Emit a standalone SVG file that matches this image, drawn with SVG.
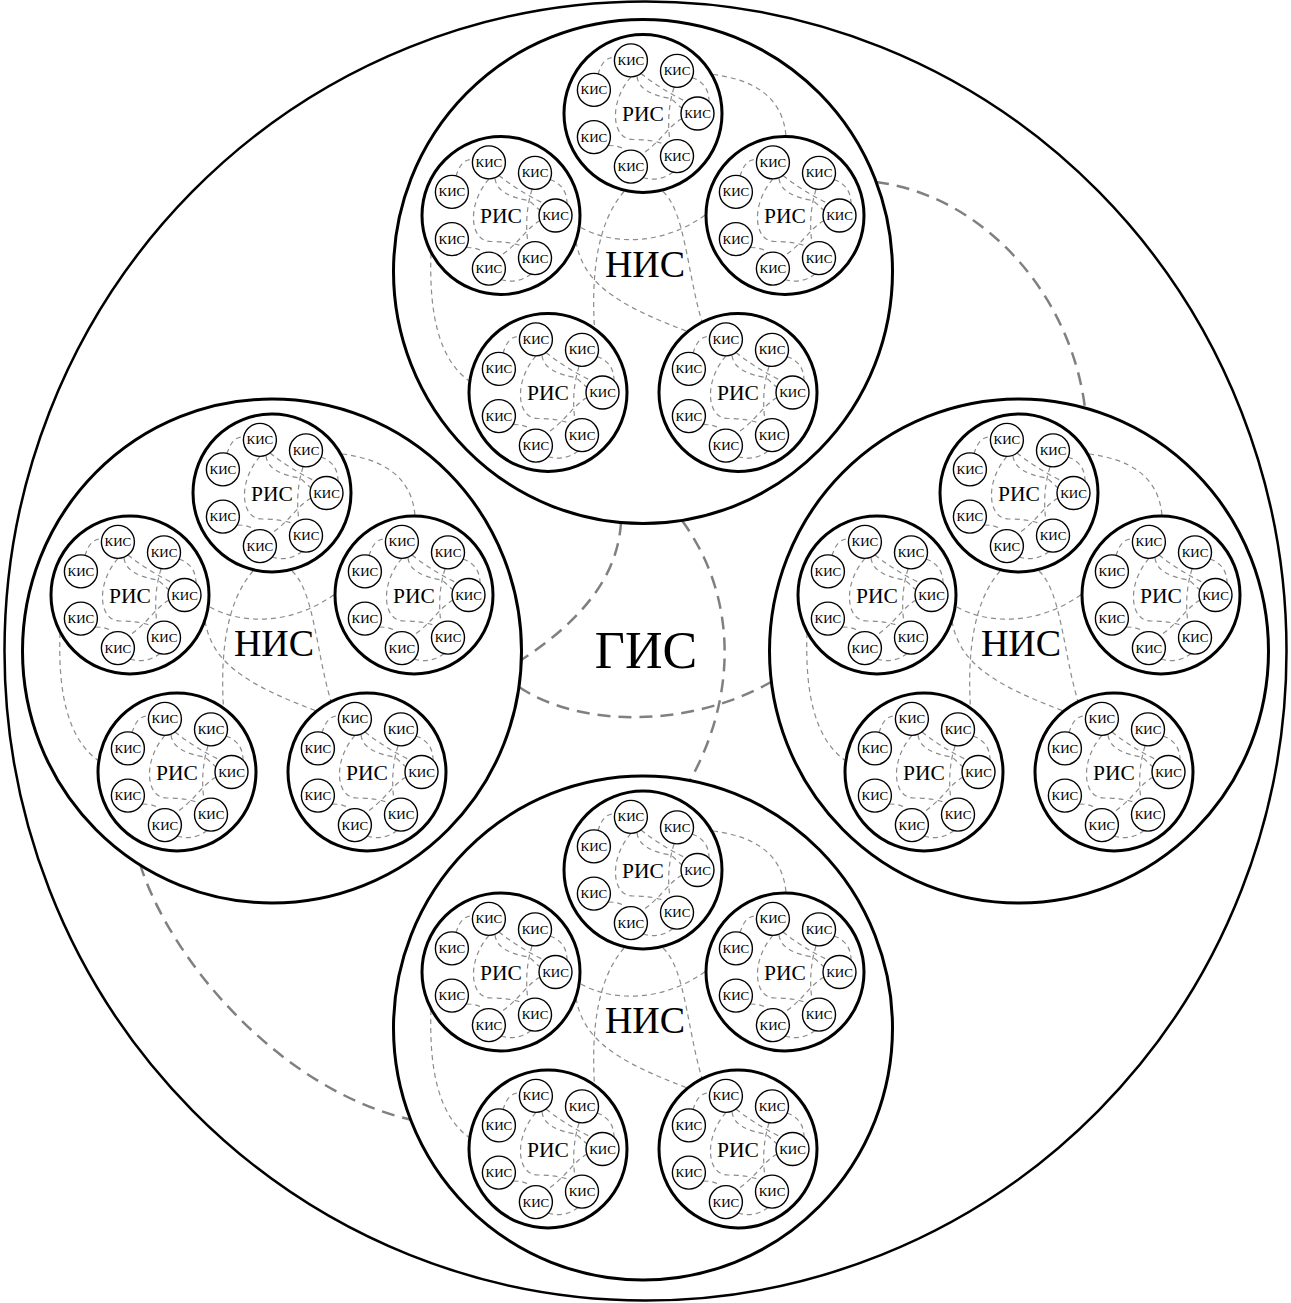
<svg xmlns="http://www.w3.org/2000/svg" xmlns:xlink="http://www.w3.org/1999/xlink" width="1291" height="1303" viewBox="0 0 1291 1303">
<style>
.gc{fill:none;stroke:#000;stroke-width:2.5}
.nc{fill:none;stroke:#000;stroke-width:3}
.rc{fill:none;stroke:#000;stroke-width:3}
.kc{fill:#fff;stroke:#000;stroke-width:1.4}
text{font-family:"Liberation Serif","Times New Roman",serif;text-anchor:middle;fill:#000}
.kt{font-size:13px}
.rt{font-size:21.5px}
.nt{font-size:38px}
.gt{font-size:52px}
.e1{fill:none;stroke:#808080;stroke-width:2.5;stroke-dasharray:13 8}
.e2{fill:none;stroke:#8c8c8c;stroke-width:1.2;stroke-dasharray:5 4}
</style>
<defs>
<g id="risEdges" class="e2">
<path d="M-45,-39 Q-40,-57 -28,-56"/>
<path d="M49,-36 Q66,-30 66,-12"/>
<path d="M0,64 Q16,69 30,58.5"/>
<path d="M-12,-36.6 C-34,-12 -32,26 -10,26 Q10,26 22,31"/>
<path d="M-6,-37 Q-4,-20 28,-15 L39,-5"/>
<path d="M31,-26 Q23,0 27,27.8"/>
<path d="M-2,-40 Q18,-24 43,-12"/>
<path d="M39,5 C26,12 16,30 -1,40.5"/>
<path d="M-35,32 Q-22,32 -17,37.4"/>
</g>
<g id="nisEdges">
<g class="e2">
<path d="M70,-197 C110,-192 140,-175 143,-135"/>
<path d="M-19,-80 C-45,-50 -52,0 -48.5,57"/>
<path d="M20,-80 C42,-60 44,0 59,50.5"/>
<path d="M-62,-44 C-30,-26 20,-26 63,-57"/>
<path d="M-67,-30 C-60,10 -30,32 44.5,60"/>
<path d="M-212,-18 C-214,40 -205,88 -173,110"/>
</g>
<use xlink:href="#risEdges" x="0" y="-158"/>
<use xlink:href="#risEdges" x="-142" y="-56"/>
<use xlink:href="#risEdges" x="142" y="-56"/>
<use xlink:href="#risEdges" x="-95" y="121"/>
<use xlink:href="#risEdges" x="95" y="121"/>
</g>
</defs>
<rect width="1291" height="1303" fill="#fff"/>
<g id="connectors">
<g class="e1">
<path d="M621,522.5 C618,570 590,615 521.3,660"/>
<path d="M682,520.5 C740,600 735,700 690,780.5"/>
<path d="M519,687 C580,728 690,728 771,682"/>
<path d="M876,182 C980,195 1070,290 1085,408"/>
<path d="M140,864 C170,960 280,1090 412,1120"/>
</g>
<use xlink:href="#nisEdges" x="643" y="271.5"/>
<use xlink:href="#nisEdges" x="272" y="651"/>
<use xlink:href="#nisEdges" x="1019" y="651"/>
<use xlink:href="#nisEdges" x="643" y="1028"/>
</g>
<g id="gis">
<ellipse class="gc" cx="645.5" cy="651" rx="641" ry="649.5"/>
<text class="gt" x="646" y="668">ГИС</text>
</g>

<g id="nisT" transform="translate(643 271.5)">
<ellipse class="nc" rx="249.5" ry="252"/>
<text class="nt" x="2" y="5">НИС</text>
<g id="T1" transform="translate(0 -158)"><circle class="rc" r="79"/><text class="rt" y="7.5">РИС</text>
<g id="T1a" transform="translate(54.5 0)"><circle class="kc" r="16.5"/><text class="kt" y="4.5">КИС</text></g>
<g id="T1b" transform="translate(34 42.6)"><circle class="kc" r="16.5"/><text class="kt" y="4.5">КИС</text></g>
<g id="T1c" transform="translate(-12.1 53.1)"><circle class="kc" r="16.5"/><text class="kt" y="4.5">КИС</text></g>
<g id="T1d" transform="translate(-49.1 23.6)"><circle class="kc" r="16.5"/><text class="kt" y="4.5">КИС</text></g>
<g id="T1e" transform="translate(-49.1 -23.6)"><circle class="kc" r="16.5"/><text class="kt" y="4.5">КИС</text></g>
<g id="T1f" transform="translate(-12.1 -53.1)"><circle class="kc" r="16.5"/><text class="kt" y="4.5">КИС</text></g>
<g id="T1g" transform="translate(34 -42.6)"><circle class="kc" r="16.5"/><text class="kt" y="4.5">КИС</text></g>
</g>
<g id="T2" transform="translate(-142 -56)"><circle class="rc" r="79"/><text class="rt" y="7.5">РИС</text>
<g id="T2a" transform="translate(54.5 0)"><circle class="kc" r="16.5"/><text class="kt" y="4.5">КИС</text></g>
<g id="T2b" transform="translate(34 42.6)"><circle class="kc" r="16.5"/><text class="kt" y="4.5">КИС</text></g>
<g id="T2c" transform="translate(-12.1 53.1)"><circle class="kc" r="16.5"/><text class="kt" y="4.5">КИС</text></g>
<g id="T2d" transform="translate(-49.1 23.6)"><circle class="kc" r="16.5"/><text class="kt" y="4.5">КИС</text></g>
<g id="T2e" transform="translate(-49.1 -23.6)"><circle class="kc" r="16.5"/><text class="kt" y="4.5">КИС</text></g>
<g id="T2f" transform="translate(-12.1 -53.1)"><circle class="kc" r="16.5"/><text class="kt" y="4.5">КИС</text></g>
<g id="T2g" transform="translate(34 -42.6)"><circle class="kc" r="16.5"/><text class="kt" y="4.5">КИС</text></g>
</g>
<g id="T3" transform="translate(142 -56)"><circle class="rc" r="79"/><text class="rt" y="7.5">РИС</text>
<g id="T3a" transform="translate(54.5 0)"><circle class="kc" r="16.5"/><text class="kt" y="4.5">КИС</text></g>
<g id="T3b" transform="translate(34 42.6)"><circle class="kc" r="16.5"/><text class="kt" y="4.5">КИС</text></g>
<g id="T3c" transform="translate(-12.1 53.1)"><circle class="kc" r="16.5"/><text class="kt" y="4.5">КИС</text></g>
<g id="T3d" transform="translate(-49.1 23.6)"><circle class="kc" r="16.5"/><text class="kt" y="4.5">КИС</text></g>
<g id="T3e" transform="translate(-49.1 -23.6)"><circle class="kc" r="16.5"/><text class="kt" y="4.5">КИС</text></g>
<g id="T3f" transform="translate(-12.1 -53.1)"><circle class="kc" r="16.5"/><text class="kt" y="4.5">КИС</text></g>
<g id="T3g" transform="translate(34 -42.6)"><circle class="kc" r="16.5"/><text class="kt" y="4.5">КИС</text></g>
</g>
<g id="T4" transform="translate(-95 121)"><circle class="rc" r="79"/><text class="rt" y="7.5">РИС</text>
<g id="T4a" transform="translate(54.5 0)"><circle class="kc" r="16.5"/><text class="kt" y="4.5">КИС</text></g>
<g id="T4b" transform="translate(34 42.6)"><circle class="kc" r="16.5"/><text class="kt" y="4.5">КИС</text></g>
<g id="T4c" transform="translate(-12.1 53.1)"><circle class="kc" r="16.5"/><text class="kt" y="4.5">КИС</text></g>
<g id="T4d" transform="translate(-49.1 23.6)"><circle class="kc" r="16.5"/><text class="kt" y="4.5">КИС</text></g>
<g id="T4e" transform="translate(-49.1 -23.6)"><circle class="kc" r="16.5"/><text class="kt" y="4.5">КИС</text></g>
<g id="T4f" transform="translate(-12.1 -53.1)"><circle class="kc" r="16.5"/><text class="kt" y="4.5">КИС</text></g>
<g id="T4g" transform="translate(34 -42.6)"><circle class="kc" r="16.5"/><text class="kt" y="4.5">КИС</text></g>
</g>
<g id="T5" transform="translate(95 121)"><circle class="rc" r="79"/><text class="rt" y="7.5">РИС</text>
<g id="T5a" transform="translate(54.5 0)"><circle class="kc" r="16.5"/><text class="kt" y="4.5">КИС</text></g>
<g id="T5b" transform="translate(34 42.6)"><circle class="kc" r="16.5"/><text class="kt" y="4.5">КИС</text></g>
<g id="T5c" transform="translate(-12.1 53.1)"><circle class="kc" r="16.5"/><text class="kt" y="4.5">КИС</text></g>
<g id="T5d" transform="translate(-49.1 23.6)"><circle class="kc" r="16.5"/><text class="kt" y="4.5">КИС</text></g>
<g id="T5e" transform="translate(-49.1 -23.6)"><circle class="kc" r="16.5"/><text class="kt" y="4.5">КИС</text></g>
<g id="T5f" transform="translate(-12.1 -53.1)"><circle class="kc" r="16.5"/><text class="kt" y="4.5">КИС</text></g>
<g id="T5g" transform="translate(34 -42.6)"><circle class="kc" r="16.5"/><text class="kt" y="4.5">КИС</text></g>
</g>
</g>

<g id="nisL" transform="translate(272 651)">
<ellipse class="nc" rx="249.5" ry="252"/>
<text class="nt" x="2" y="5">НИС</text>
<g id="L1" transform="translate(0 -158)"><circle class="rc" r="79"/><text class="rt" y="7.5">РИС</text>
<g id="L1a" transform="translate(54.5 0)"><circle class="kc" r="16.5"/><text class="kt" y="4.5">КИС</text></g>
<g id="L1b" transform="translate(34 42.6)"><circle class="kc" r="16.5"/><text class="kt" y="4.5">КИС</text></g>
<g id="L1c" transform="translate(-12.1 53.1)"><circle class="kc" r="16.5"/><text class="kt" y="4.5">КИС</text></g>
<g id="L1d" transform="translate(-49.1 23.6)"><circle class="kc" r="16.5"/><text class="kt" y="4.5">КИС</text></g>
<g id="L1e" transform="translate(-49.1 -23.6)"><circle class="kc" r="16.5"/><text class="kt" y="4.5">КИС</text></g>
<g id="L1f" transform="translate(-12.1 -53.1)"><circle class="kc" r="16.5"/><text class="kt" y="4.5">КИС</text></g>
<g id="L1g" transform="translate(34 -42.6)"><circle class="kc" r="16.5"/><text class="kt" y="4.5">КИС</text></g>
</g>
<g id="L2" transform="translate(-142 -56)"><circle class="rc" r="79"/><text class="rt" y="7.5">РИС</text>
<g id="L2a" transform="translate(54.5 0)"><circle class="kc" r="16.5"/><text class="kt" y="4.5">КИС</text></g>
<g id="L2b" transform="translate(34 42.6)"><circle class="kc" r="16.5"/><text class="kt" y="4.5">КИС</text></g>
<g id="L2c" transform="translate(-12.1 53.1)"><circle class="kc" r="16.5"/><text class="kt" y="4.5">КИС</text></g>
<g id="L2d" transform="translate(-49.1 23.6)"><circle class="kc" r="16.5"/><text class="kt" y="4.5">КИС</text></g>
<g id="L2e" transform="translate(-49.1 -23.6)"><circle class="kc" r="16.5"/><text class="kt" y="4.5">КИС</text></g>
<g id="L2f" transform="translate(-12.1 -53.1)"><circle class="kc" r="16.5"/><text class="kt" y="4.5">КИС</text></g>
<g id="L2g" transform="translate(34 -42.6)"><circle class="kc" r="16.5"/><text class="kt" y="4.5">КИС</text></g>
</g>
<g id="L3" transform="translate(142 -56)"><circle class="rc" r="79"/><text class="rt" y="7.5">РИС</text>
<g id="L3a" transform="translate(54.5 0)"><circle class="kc" r="16.5"/><text class="kt" y="4.5">КИС</text></g>
<g id="L3b" transform="translate(34 42.6)"><circle class="kc" r="16.5"/><text class="kt" y="4.5">КИС</text></g>
<g id="L3c" transform="translate(-12.1 53.1)"><circle class="kc" r="16.5"/><text class="kt" y="4.5">КИС</text></g>
<g id="L3d" transform="translate(-49.1 23.6)"><circle class="kc" r="16.5"/><text class="kt" y="4.5">КИС</text></g>
<g id="L3e" transform="translate(-49.1 -23.6)"><circle class="kc" r="16.5"/><text class="kt" y="4.5">КИС</text></g>
<g id="L3f" transform="translate(-12.1 -53.1)"><circle class="kc" r="16.5"/><text class="kt" y="4.5">КИС</text></g>
<g id="L3g" transform="translate(34 -42.6)"><circle class="kc" r="16.5"/><text class="kt" y="4.5">КИС</text></g>
</g>
<g id="L4" transform="translate(-95 121)"><circle class="rc" r="79"/><text class="rt" y="7.5">РИС</text>
<g id="L4a" transform="translate(54.5 0)"><circle class="kc" r="16.5"/><text class="kt" y="4.5">КИС</text></g>
<g id="L4b" transform="translate(34 42.6)"><circle class="kc" r="16.5"/><text class="kt" y="4.5">КИС</text></g>
<g id="L4c" transform="translate(-12.1 53.1)"><circle class="kc" r="16.5"/><text class="kt" y="4.5">КИС</text></g>
<g id="L4d" transform="translate(-49.1 23.6)"><circle class="kc" r="16.5"/><text class="kt" y="4.5">КИС</text></g>
<g id="L4e" transform="translate(-49.1 -23.6)"><circle class="kc" r="16.5"/><text class="kt" y="4.5">КИС</text></g>
<g id="L4f" transform="translate(-12.1 -53.1)"><circle class="kc" r="16.5"/><text class="kt" y="4.5">КИС</text></g>
<g id="L4g" transform="translate(34 -42.6)"><circle class="kc" r="16.5"/><text class="kt" y="4.5">КИС</text></g>
</g>
<g id="L5" transform="translate(95 121)"><circle class="rc" r="79"/><text class="rt" y="7.5">РИС</text>
<g id="L5a" transform="translate(54.5 0)"><circle class="kc" r="16.5"/><text class="kt" y="4.5">КИС</text></g>
<g id="L5b" transform="translate(34 42.6)"><circle class="kc" r="16.5"/><text class="kt" y="4.5">КИС</text></g>
<g id="L5c" transform="translate(-12.1 53.1)"><circle class="kc" r="16.5"/><text class="kt" y="4.5">КИС</text></g>
<g id="L5d" transform="translate(-49.1 23.6)"><circle class="kc" r="16.5"/><text class="kt" y="4.5">КИС</text></g>
<g id="L5e" transform="translate(-49.1 -23.6)"><circle class="kc" r="16.5"/><text class="kt" y="4.5">КИС</text></g>
<g id="L5f" transform="translate(-12.1 -53.1)"><circle class="kc" r="16.5"/><text class="kt" y="4.5">КИС</text></g>
<g id="L5g" transform="translate(34 -42.6)"><circle class="kc" r="16.5"/><text class="kt" y="4.5">КИС</text></g>
</g>
</g>

<g id="nisR" transform="translate(1019 651)">
<ellipse class="nc" rx="249.5" ry="252"/>
<text class="nt" x="2" y="5">НИС</text>
<g id="R1" transform="translate(0 -158)"><circle class="rc" r="79"/><text class="rt" y="7.5">РИС</text>
<g id="R1a" transform="translate(54.5 0)"><circle class="kc" r="16.5"/><text class="kt" y="4.5">КИС</text></g>
<g id="R1b" transform="translate(34 42.6)"><circle class="kc" r="16.5"/><text class="kt" y="4.5">КИС</text></g>
<g id="R1c" transform="translate(-12.1 53.1)"><circle class="kc" r="16.5"/><text class="kt" y="4.5">КИС</text></g>
<g id="R1d" transform="translate(-49.1 23.6)"><circle class="kc" r="16.5"/><text class="kt" y="4.5">КИС</text></g>
<g id="R1e" transform="translate(-49.1 -23.6)"><circle class="kc" r="16.5"/><text class="kt" y="4.5">КИС</text></g>
<g id="R1f" transform="translate(-12.1 -53.1)"><circle class="kc" r="16.5"/><text class="kt" y="4.5">КИС</text></g>
<g id="R1g" transform="translate(34 -42.6)"><circle class="kc" r="16.5"/><text class="kt" y="4.5">КИС</text></g>
</g>
<g id="R2" transform="translate(-142 -56)"><circle class="rc" r="79"/><text class="rt" y="7.5">РИС</text>
<g id="R2a" transform="translate(54.5 0)"><circle class="kc" r="16.5"/><text class="kt" y="4.5">КИС</text></g>
<g id="R2b" transform="translate(34 42.6)"><circle class="kc" r="16.5"/><text class="kt" y="4.5">КИС</text></g>
<g id="R2c" transform="translate(-12.1 53.1)"><circle class="kc" r="16.5"/><text class="kt" y="4.5">КИС</text></g>
<g id="R2d" transform="translate(-49.1 23.6)"><circle class="kc" r="16.5"/><text class="kt" y="4.5">КИС</text></g>
<g id="R2e" transform="translate(-49.1 -23.6)"><circle class="kc" r="16.5"/><text class="kt" y="4.5">КИС</text></g>
<g id="R2f" transform="translate(-12.1 -53.1)"><circle class="kc" r="16.5"/><text class="kt" y="4.5">КИС</text></g>
<g id="R2g" transform="translate(34 -42.6)"><circle class="kc" r="16.5"/><text class="kt" y="4.5">КИС</text></g>
</g>
<g id="R3" transform="translate(142 -56)"><circle class="rc" r="79"/><text class="rt" y="7.5">РИС</text>
<g id="R3a" transform="translate(54.5 0)"><circle class="kc" r="16.5"/><text class="kt" y="4.5">КИС</text></g>
<g id="R3b" transform="translate(34 42.6)"><circle class="kc" r="16.5"/><text class="kt" y="4.5">КИС</text></g>
<g id="R3c" transform="translate(-12.1 53.1)"><circle class="kc" r="16.5"/><text class="kt" y="4.5">КИС</text></g>
<g id="R3d" transform="translate(-49.1 23.6)"><circle class="kc" r="16.5"/><text class="kt" y="4.5">КИС</text></g>
<g id="R3e" transform="translate(-49.1 -23.6)"><circle class="kc" r="16.5"/><text class="kt" y="4.5">КИС</text></g>
<g id="R3f" transform="translate(-12.1 -53.1)"><circle class="kc" r="16.5"/><text class="kt" y="4.5">КИС</text></g>
<g id="R3g" transform="translate(34 -42.6)"><circle class="kc" r="16.5"/><text class="kt" y="4.5">КИС</text></g>
</g>
<g id="R4" transform="translate(-95 121)"><circle class="rc" r="79"/><text class="rt" y="7.5">РИС</text>
<g id="R4a" transform="translate(54.5 0)"><circle class="kc" r="16.5"/><text class="kt" y="4.5">КИС</text></g>
<g id="R4b" transform="translate(34 42.6)"><circle class="kc" r="16.5"/><text class="kt" y="4.5">КИС</text></g>
<g id="R4c" transform="translate(-12.1 53.1)"><circle class="kc" r="16.5"/><text class="kt" y="4.5">КИС</text></g>
<g id="R4d" transform="translate(-49.1 23.6)"><circle class="kc" r="16.5"/><text class="kt" y="4.5">КИС</text></g>
<g id="R4e" transform="translate(-49.1 -23.6)"><circle class="kc" r="16.5"/><text class="kt" y="4.5">КИС</text></g>
<g id="R4f" transform="translate(-12.1 -53.1)"><circle class="kc" r="16.5"/><text class="kt" y="4.5">КИС</text></g>
<g id="R4g" transform="translate(34 -42.6)"><circle class="kc" r="16.5"/><text class="kt" y="4.5">КИС</text></g>
</g>
<g id="R5" transform="translate(95 121)"><circle class="rc" r="79"/><text class="rt" y="7.5">РИС</text>
<g id="R5a" transform="translate(54.5 0)"><circle class="kc" r="16.5"/><text class="kt" y="4.5">КИС</text></g>
<g id="R5b" transform="translate(34 42.6)"><circle class="kc" r="16.5"/><text class="kt" y="4.5">КИС</text></g>
<g id="R5c" transform="translate(-12.1 53.1)"><circle class="kc" r="16.5"/><text class="kt" y="4.5">КИС</text></g>
<g id="R5d" transform="translate(-49.1 23.6)"><circle class="kc" r="16.5"/><text class="kt" y="4.5">КИС</text></g>
<g id="R5e" transform="translate(-49.1 -23.6)"><circle class="kc" r="16.5"/><text class="kt" y="4.5">КИС</text></g>
<g id="R5f" transform="translate(-12.1 -53.1)"><circle class="kc" r="16.5"/><text class="kt" y="4.5">КИС</text></g>
<g id="R5g" transform="translate(34 -42.6)"><circle class="kc" r="16.5"/><text class="kt" y="4.5">КИС</text></g>
</g>
</g>

<g id="nisB" transform="translate(643 1028)">
<ellipse class="nc" rx="249.5" ry="252"/>
<text class="nt" x="2" y="5">НИС</text>
<g id="B1" transform="translate(0 -158)"><circle class="rc" r="79"/><text class="rt" y="7.5">РИС</text>
<g id="B1a" transform="translate(54.5 0)"><circle class="kc" r="16.5"/><text class="kt" y="4.5">КИС</text></g>
<g id="B1b" transform="translate(34 42.6)"><circle class="kc" r="16.5"/><text class="kt" y="4.5">КИС</text></g>
<g id="B1c" transform="translate(-12.1 53.1)"><circle class="kc" r="16.5"/><text class="kt" y="4.5">КИС</text></g>
<g id="B1d" transform="translate(-49.1 23.6)"><circle class="kc" r="16.5"/><text class="kt" y="4.5">КИС</text></g>
<g id="B1e" transform="translate(-49.1 -23.6)"><circle class="kc" r="16.5"/><text class="kt" y="4.5">КИС</text></g>
<g id="B1f" transform="translate(-12.1 -53.1)"><circle class="kc" r="16.5"/><text class="kt" y="4.5">КИС</text></g>
<g id="B1g" transform="translate(34 -42.6)"><circle class="kc" r="16.5"/><text class="kt" y="4.5">КИС</text></g>
</g>
<g id="B2" transform="translate(-142 -56)"><circle class="rc" r="79"/><text class="rt" y="7.5">РИС</text>
<g id="B2a" transform="translate(54.5 0)"><circle class="kc" r="16.5"/><text class="kt" y="4.5">КИС</text></g>
<g id="B2b" transform="translate(34 42.6)"><circle class="kc" r="16.5"/><text class="kt" y="4.5">КИС</text></g>
<g id="B2c" transform="translate(-12.1 53.1)"><circle class="kc" r="16.5"/><text class="kt" y="4.5">КИС</text></g>
<g id="B2d" transform="translate(-49.1 23.6)"><circle class="kc" r="16.5"/><text class="kt" y="4.5">КИС</text></g>
<g id="B2e" transform="translate(-49.1 -23.6)"><circle class="kc" r="16.5"/><text class="kt" y="4.5">КИС</text></g>
<g id="B2f" transform="translate(-12.1 -53.1)"><circle class="kc" r="16.5"/><text class="kt" y="4.5">КИС</text></g>
<g id="B2g" transform="translate(34 -42.6)"><circle class="kc" r="16.5"/><text class="kt" y="4.5">КИС</text></g>
</g>
<g id="B3" transform="translate(142 -56)"><circle class="rc" r="79"/><text class="rt" y="7.5">РИС</text>
<g id="B3a" transform="translate(54.5 0)"><circle class="kc" r="16.5"/><text class="kt" y="4.5">КИС</text></g>
<g id="B3b" transform="translate(34 42.6)"><circle class="kc" r="16.5"/><text class="kt" y="4.5">КИС</text></g>
<g id="B3c" transform="translate(-12.1 53.1)"><circle class="kc" r="16.5"/><text class="kt" y="4.5">КИС</text></g>
<g id="B3d" transform="translate(-49.1 23.6)"><circle class="kc" r="16.5"/><text class="kt" y="4.5">КИС</text></g>
<g id="B3e" transform="translate(-49.1 -23.6)"><circle class="kc" r="16.5"/><text class="kt" y="4.5">КИС</text></g>
<g id="B3f" transform="translate(-12.1 -53.1)"><circle class="kc" r="16.5"/><text class="kt" y="4.5">КИС</text></g>
<g id="B3g" transform="translate(34 -42.6)"><circle class="kc" r="16.5"/><text class="kt" y="4.5">КИС</text></g>
</g>
<g id="B4" transform="translate(-95 121)"><circle class="rc" r="79"/><text class="rt" y="7.5">РИС</text>
<g id="B4a" transform="translate(54.5 0)"><circle class="kc" r="16.5"/><text class="kt" y="4.5">КИС</text></g>
<g id="B4b" transform="translate(34 42.6)"><circle class="kc" r="16.5"/><text class="kt" y="4.5">КИС</text></g>
<g id="B4c" transform="translate(-12.1 53.1)"><circle class="kc" r="16.5"/><text class="kt" y="4.5">КИС</text></g>
<g id="B4d" transform="translate(-49.1 23.6)"><circle class="kc" r="16.5"/><text class="kt" y="4.5">КИС</text></g>
<g id="B4e" transform="translate(-49.1 -23.6)"><circle class="kc" r="16.5"/><text class="kt" y="4.5">КИС</text></g>
<g id="B4f" transform="translate(-12.1 -53.1)"><circle class="kc" r="16.5"/><text class="kt" y="4.5">КИС</text></g>
<g id="B4g" transform="translate(34 -42.6)"><circle class="kc" r="16.5"/><text class="kt" y="4.5">КИС</text></g>
</g>
<g id="B5" transform="translate(95 121)"><circle class="rc" r="79"/><text class="rt" y="7.5">РИС</text>
<g id="B5a" transform="translate(54.5 0)"><circle class="kc" r="16.5"/><text class="kt" y="4.5">КИС</text></g>
<g id="B5b" transform="translate(34 42.6)"><circle class="kc" r="16.5"/><text class="kt" y="4.5">КИС</text></g>
<g id="B5c" transform="translate(-12.1 53.1)"><circle class="kc" r="16.5"/><text class="kt" y="4.5">КИС</text></g>
<g id="B5d" transform="translate(-49.1 23.6)"><circle class="kc" r="16.5"/><text class="kt" y="4.5">КИС</text></g>
<g id="B5e" transform="translate(-49.1 -23.6)"><circle class="kc" r="16.5"/><text class="kt" y="4.5">КИС</text></g>
<g id="B5f" transform="translate(-12.1 -53.1)"><circle class="kc" r="16.5"/><text class="kt" y="4.5">КИС</text></g>
<g id="B5g" transform="translate(34 -42.6)"><circle class="kc" r="16.5"/><text class="kt" y="4.5">КИС</text></g>
</g>
</g>
</svg>
